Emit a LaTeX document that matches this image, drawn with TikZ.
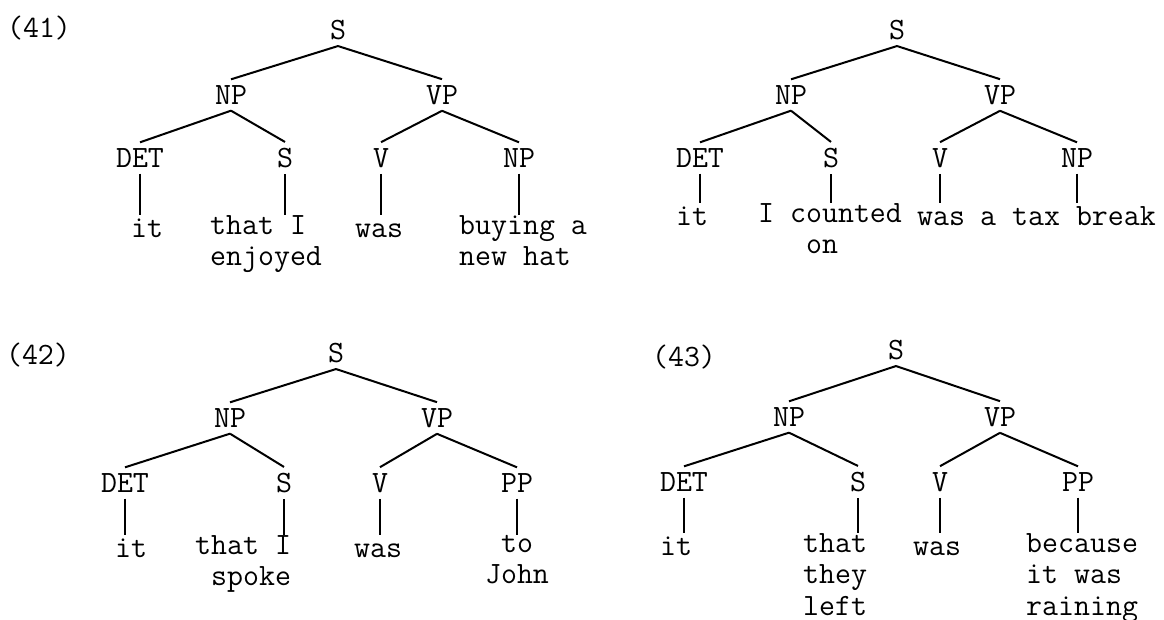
\documentclass[tikz,border=0pt]{standalone}
\usepackage{tikz}

\newcommand{\treefont}{\ttfamily\fontsize{31}{31.5}\selectfont}
\tikzset{
  cat/.style={font=\treefont, inner sep=6pt},
  leaf/.style={font=\treefont, inner sep=0pt, anchor=north west, align=left,
    execute at begin node=\strut},
  exno/.style={font=\treefont, inner sep=0pt},
  branch/.style={line width=2pt}
}

\begin{document}
\begin{tikzpicture}[x=1pt, y=-1pt]
  \useasboundingbox (0,0) rectangle (1164,620);

  % (41), first tree
  \node[exno] (no41) at (39,28) {(41)};
  \node[cat] (s41) at (338,30) {S};
  \node[cat] (np41) at (231,95) {NP};
  \node[cat] (vp41) at (442,95) {VP};
  \node[cat] (det41) at (140,158) {DET};
  \node[cat] (ss41) at (285,158) {S};
  \node[cat] (v41) at (381,158) {V};
  \node[cat] (obj41) at (519,158) {NP};
  \node[leaf] (it41) at (131,215) {it};
  \node[leaf] (that41) at (210,215) {that I\\enjoyed};
  \node[leaf] (was41) at (355,215) {was};
  \node[leaf] (buy41) at (459,215) {buying a\\new hat};
  \draw[branch] (s41.south) -- (np41.north) (s41.south) -- (vp41.north)
    (np41.south) -- (det41.north) (np41.south) -- (ss41.north)
    (vp41.south) -- (v41.north) (vp41.south) -- (obj41.north);
  \draw[branch] (det41.south) -- (det41.south |- it41.north)
    (ss41.south) -- (ss41.south |- that41.north)
    (v41.south) -- (v41.south |- was41.north)
    (obj41.south) -- (obj41.south |- buy41.north);

  % (41), second tree
  \node[cat] (s41b) at (897,30) {S};
  \node[cat] (np41b) at (791,95) {NP};
  \node[cat] (vp41b) at (1000,95) {VP};
  \node[cat] (det41b) at (700,158) {DET};
  \node[cat] (ss41b) at (831,158) {S};
  \node[cat] (v41b) at (940,158) {V};
  \node[cat] (obj41b) at (1077,158) {NP};
  \node[leaf] (it41b) at (676,203) {it};
  \node[leaf] (cnt41b) at (758,203) {I counted\\\hphantom{I c}on};
  \node[leaf] (was41b) at (917,203) {was};
  \node[leaf] (tax41b) at (980,203) {a tax break};
  \draw[branch] (s41b.south) -- (np41b.north) (s41b.south) -- (vp41b.north)
    (np41b.south) -- (det41b.north) (np41b.south) -- (ss41b.north)
    (vp41b.south) -- (v41b.north) (vp41b.south) -- (obj41b.north);
  \draw[branch] (det41b.south) -- (det41b.south |- it41b.north)
    (ss41b.south) -- (ss41b.south |- cnt41b.north)
    (v41b.south) -- (v41b.south |- was41b.north)
    (obj41b.south) -- (obj41b.south |- tax41b.north);

  % (42)
  \node[exno] (no42) at (38,355) {(42)};
  \node[cat] (s42) at (336,353) {S};
  \node[cat] (np42) at (230,418) {NP};
  \node[cat] (vp42) at (437,418) {VP};
  \node[cat] (det42) at (125,483) {DET};
  \node[cat] (ss42) at (284,483) {S};
  \node[cat] (v42) at (380,483) {V};
  \node[cat] (pp42) at (517,483) {PP};
  \node[leaf] (it42) at (115,535) {it};
  \node[leaf] (that42) at (195,535) {that I\\\hphantom{t}spoke};
  \node[leaf] (was42) at (354,535) {was};
  \node[leaf, anchor=north, align=center] (to42) at (517,535) {to\\John};
  \draw[branch] (s42.south) -- (np42.north) (s42.south) -- (vp42.north)
    (np42.south) -- (det42.north) (np42.south) -- (ss42.north)
    (vp42.south) -- (v42.north) (vp42.south) -- (pp42.north);
  \draw[branch] (det42.south) -- (det42.south |- it42.north)
    (ss42.south) -- (ss42.south |- that42.north)
    (v42.south) -- (v42.south |- was42.north)
    (pp42.south) -- (pp42.south |- to42.north);

  % (43)
  \node[exno] (no43) at (684,357) {(43)};
  \node[cat] (s43) at (896,350) {S};
  \node[cat] (np43) at (789,417) {NP};
  \node[cat] (vp43) at (1000,417) {VP};
  \node[cat] (det43) at (684,482) {DET};
  \node[cat] (ss43) at (858,482) {S};
  \node[cat] (v43) at (940,482) {V};
  \node[cat] (pp43) at (1078,482) {PP};
  \node[leaf] (it43) at (660,533) {it};
  \node[leaf] (that43) at (803,533) {that\\they\\left};
  \node[leaf] (was43) at (913,533) {was};
  \node[leaf] (bec43) at (1026,533) {because\\it was\\raining};
  \draw[branch] (s43.south) -- (np43.north) (s43.south) -- (vp43.north)
    (np43.south) -- (det43.north) (np43.south) -- (ss43.north)
    (vp43.south) -- (v43.north) (vp43.south) -- (pp43.north);
  \draw[branch] (det43.south) -- (det43.south |- it43.north)
    (ss43.south) -- (ss43.south |- that43.north)
    (v43.south) -- (v43.south |- was43.north)
    (pp43.south) -- (pp43.south |- bec43.north);
\end{tikzpicture}
\end{document}
